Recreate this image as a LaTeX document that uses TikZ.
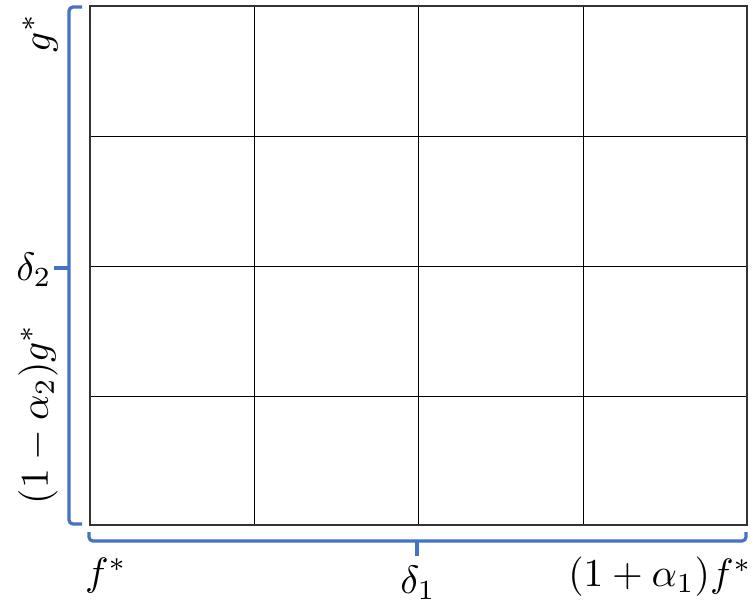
\documentclass[tikz,border=0pt]{standalone}
\usepackage{amsmath}
\newcommand{\lblmath}[1]{\scalebox{3.95}{$#1$}}
\begin{document}
\begin{tikzpicture}[x=1pt,y=-1pt,
  gridline/.style={black,line width=0.8pt},
  frame/.style={black!80,line width=1.4pt},
  bracket/.style={draw={rgb,255:red,68;green,114;blue,196},line width=3.2pt,rounded corners=4pt},
  lbl/.style={inner sep=0pt}]
\useasboundingbox (0,0) rectangle (755,613);
% grid
\foreach \x in {254,418,583} \draw[gridline] (\x,6) -- (\x,525);
\foreach \y in {136,266,396} \draw[gridline] (90,\y) -- (747,\y);
\draw[frame] (90,6) rectangle (747,525);
% left bracket
\coordinate (lt) at (82,7);
\coordinate (lb) at (82,524);
\coordinate (lm) at (69,268);
\coordinate (lmt) at (54,268);
\draw[bracket] (lt) -- (69,7) -- (69,524) -- (lb);
\draw[bracket,rounded corners=0pt] (lm) -- (lmt);
% bottom bracket
\coordinate (bl) at (89,532);
\coordinate (br) at (746,532);
\coordinate (bm) at (417,541);
\coordinate (bmt) at (417,556);
\draw[bracket] (bl) -- (89,541) -- (746,541) -- (br);
\draw[bracket,rounded corners=0pt] (bm) -- (bmt);
% labels
\node[lbl,rotate=90] (g) at (40,33) {\lblmath{g^{*}}};
\node[lbl] (d2) at (34,270) {\lblmath{\delta_2}};
\node[lbl,rotate=90] (ag) at (38,414) {\lblmath{(1-\alpha_2)g^{*}}};
\node[lbl] (f) at (106,576) {\lblmath{f^{*}}};
\node[lbl] (d1) at (418,583) {\lblmath{\delta_1}};
\node[lbl,anchor=east] (af) at (752,577) {\lblmath{(1+\alpha_1)f^{*}}};
\end{tikzpicture}
\end{document}
